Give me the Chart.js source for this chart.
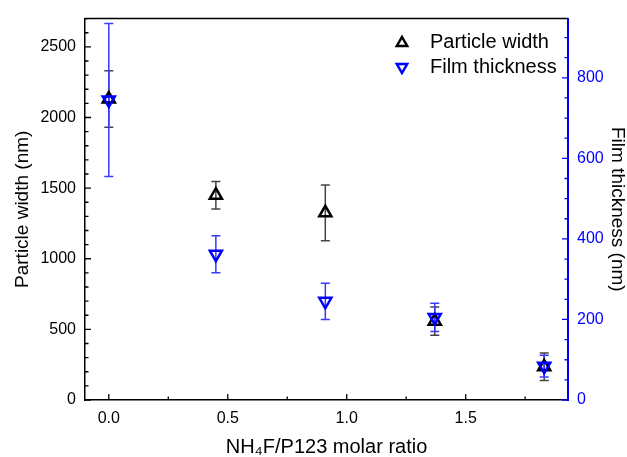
<!DOCTYPE html>
<html lang="en">
<head>
    <meta charset="UTF-8">
    <title>Particle width and film thickness vs NH4F/P123 ratio</title>
    <script src="https://cdn.jsdelivr.net/npm/chart.js"></script>
    <style>
        html, body { margin: 0; padding: 0; background: #fff; }
        #wrap { width: 627px; height: 457px; position: relative; }
    </style>
</head>
<body>
<div id="wrap"><canvas id="chart"></canvas></div>
<script>
    // data
    const ratio = [0, 0.45, 0.91, 1.37, 1.83];
    const particleWidth = [2130, 1450, 1325, 558, 235];
    const particleWidthErr = [200, 97, 197, 100, 97];
    const filmThickness = [745, 362, 245, 205, 84];
    const filmThicknessErr = [190, 46, 45, 35, 27];

    // tick labels
    const xMajorTicks = [0, 0.5, 1.0, 1.5];
    const xMinorTicks = [0.25, 0.75, 1.25, 1.75];
    const leftTicks = [0, 500, 1000, 1500, 2000, 2500];
    const rightTicks = [0, 200, 400, 600, 800];
    const leftMinorStep = 100;
    const rightMinorStep = 50;

    const FONT = "'Liberation Sans', Arial, sans-serif";
    const BLUE = '#0000ff';

    const widthPts = ratio.map((x, i) => ({ x: x, y: particleWidth[i] }));
    const thickPts = ratio.map((x, i) => ({ x: x, y: filmThickness[i] }));

    // error bars, inward ticks, top frame line and the legend
    const extras = {
        id: 'extras',
        beforeDatasetsDraw(chart) {
            const ctx = chart.ctx;
            const xs = chart.scales.x, yl = chart.scales.y, yr = chart.scales.y1;
            const area = chart.chartArea;

            function errBars(vals, errs, scale, color) {
                ctx.save();
                ctx.strokeStyle = color;
                ctx.lineWidth = 1.5;
                ratio.forEach((x, i) => {
                    const px = xs.getPixelForValue(x);
                    const top = scale.getPixelForValue(vals[i] + errs[i]);
                    const bot = scale.getPixelForValue(vals[i] - errs[i]);
                    ctx.beginPath();
                    ctx.moveTo(px, top); ctx.lineTo(px, bot);
                    ctx.moveTo(px - 4.5, top); ctx.lineTo(px + 4.5, top);
                    ctx.moveTo(px - 4.5, bot); ctx.lineTo(px + 4.5, bot);
                    ctx.stroke();
                });
                ctx.restore();
            }
            errBars(particleWidth, particleWidthErr, yl, '#444');
            errBars(filmThickness, filmThicknessErr, yr, '#3a3aff');

            ctx.save();
            ctx.lineWidth = 1.3;
            // x ticks (inward)
            ctx.strokeStyle = '#000';
            ctx.beginPath();
            xMajorTicks.forEach(v => {
                const p = xs.getPixelForValue(v);
                ctx.moveTo(p, area.bottom); ctx.lineTo(p, area.bottom - 6);
            });
            xMinorTicks.forEach(v => {
                const p = xs.getPixelForValue(v);
                ctx.moveTo(p, area.bottom); ctx.lineTo(p, area.bottom - 3.5);
            });
            // left ticks
            for (let v = 0; v <= yl.max; v += leftMinorStep) {
                const p = yl.getPixelForValue(v);
                const len = leftTicks.includes(v) ? 6 : 3.5;
                ctx.moveTo(area.left, p); ctx.lineTo(area.left + len, p);
            }
            ctx.stroke();
            // top frame line
            ctx.lineWidth = 1.5;
            ctx.beginPath();
            ctx.moveTo(area.left, area.top); ctx.lineTo(area.right, area.top);
            ctx.stroke();
            // right ticks
            ctx.strokeStyle = BLUE;
            ctx.lineWidth = 1.3;
            ctx.beginPath();
            for (let v = 0; v <= yr.max; v += rightMinorStep) {
                const p = yr.getPixelForValue(v);
                const len = rightTicks.includes(v) ? 6 : 3.5;
                ctx.moveTo(area.right, p); ctx.lineTo(area.right - len, p);
            }
            ctx.stroke();
            ctx.restore();
        },
        afterDraw(chart) {
            const ctx = chart.ctx;
            ctx.save();
            ctx.lineWidth = 2.5;
            ctx.lineJoin = 'miter';
            function tri(cx, cy, r, down, color) {
                const s = down ? -1 : 1;
                ctx.strokeStyle = color;
                ctx.beginPath();
                ctx.moveTo(cx, cy - s * r);
                ctx.lineTo(cx + r * 0.866, cy + s * r * 0.5);
                ctx.lineTo(cx - r * 0.866, cy + s * r * 0.5);
                ctx.closePath();
                ctx.stroke();
            }
            tri(402, 43, 6, false, '#000');
            tri(402, 67, 6, true, BLUE);
            ctx.fillStyle = '#000';
            ctx.font = '20px ' + FONT;
            ctx.textBaseline = 'middle';
            ctx.fillText('Particle width', 430, 42);
            ctx.fillText('Film thickness', 430, 67);
            ctx.restore();
        }
    };

    new Chart(document.getElementById('chart'), {
        type: 'scatter',
        data: {
            datasets: [
                {
                    label: 'Film thickness',
                    data: thickPts,
                    yAxisID: 'y1',
                    order: 0,
                    pointStyle: 'triangle',
                    pointRotation: 180,
                    pointRadius: 7,
                    pointHoverRadius: 7,
                    pointBorderWidth: 2.5,
                    borderColor: BLUE,
                    backgroundColor: 'rgba(0,0,0,0)'
                },
                {
                    label: 'Particle width',
                    data: widthPts,
                    yAxisID: 'y',
                    order: 1,
                    pointStyle: 'triangle',
                    pointRadius: 7,
                    pointHoverRadius: 7,
                    pointBorderWidth: 2.5,
                    borderColor: '#000',
                    backgroundColor: 'rgba(0,0,0,0)'
                }
            ]
        },
        options: {
            responsive: true,
            maintainAspectRatio: false,
            animation: false,
            layout: { padding: { top: 13, left: 0, right: 0, bottom: 0 } },
            plugins: { legend: { display: false }, tooltip: { enabled: false } },
            scales: {
                x: {
                    type: 'linear',
                    min: -0.1,
                    max: 1.93,
                    afterFit(s) { s.height = 57; },
                    afterBuildTicks(s) { s.ticks = xMajorTicks.map(v => ({ value: v })); },
                    grid: { display: false, drawTicks: false },
                    border: { display: true, color: '#000', width: 1.5 },
                    ticks: {
                        padding: 9,
                        color: '#000',
                        font: { family: FONT, size: 16 },
                        callback: v => v.toFixed(1)
                    },
                    title: {
                        display: true,
                        text: 'NH\u2084F/P123 molar ratio',
                        color: '#000',
                        font: { family: FONT, size: 20, lineHeight: 1 },
                        padding: { top: 0, bottom: 0 }
                    }
                },
                y: {
                    position: 'left',
                    min: 0,
                    max: 2700,
                    afterFit(s) { s.width = 85; },
                    afterBuildTicks(s) { s.ticks = leftTicks.map(v => ({ value: v })); },
                    grid: { display: false, drawTicks: false },
                    border: { display: true, color: '#000', width: 1.5 },
                    ticks: {
                        padding: 9,
                        color: '#000',
                        font: { family: FONT, size: 16 },
                        callback: v => String(v)
                    },
                    title: {
                        display: true,
                        text: 'Particle width (nm)',
                        color: '#000',
                        font: { family: FONT, size: 19, lineHeight: 1 },
                        padding: { top: 13, bottom: 0 }
                    }
                },
                y1: {
                    position: 'right',
                    min: 0,
                    max: 947,
                    afterFit(s) { s.width = 59; },
                    afterBuildTicks(s) { s.ticks = rightTicks.map(v => ({ value: v })); },
                    grid: { display: false, drawTicks: false },
                    border: { display: true, color: BLUE, width: 2 },
                    ticks: {
                        padding: 9,
                        color: BLUE,
                        font: { family: FONT, size: 16 },
                        callback: v => String(v)
                    },
                    title: {
                        display: true,
                        text: 'Film thickness (nm)',
                        color: '#000',
                        font: { family: FONT, size: 19, lineHeight: 1 },
                        padding: { top: 0, bottom: 0 }
                    }
                }
            }
        },
        plugins: [extras]
    });
</script>
</body>
</html>
